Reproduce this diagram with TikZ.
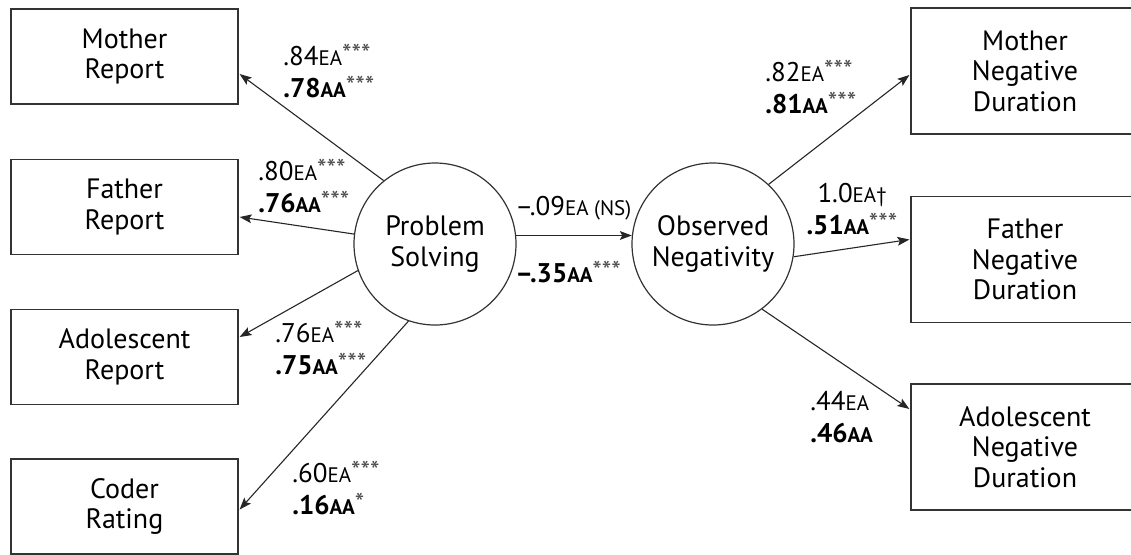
\documentclass[tikz,border=0pt]{standalone}
\usepackage{fontspec}
\setmainfont{PT Sans}
\usetikzlibrary{arrows.meta,calc}

% coefficient label: value, sample tag (small), significance (raised)
\newcommand\tagsize{\fontsize{10.5}{11}\selectfont}
\newcommand\sig[1]{\raisebox{0.15ex}{\fontsize{13.5}{13.5}\selectfont\mdseries\color{black!70}#1}}
\newcommand\coef[3]{#1{\tagsize #2}\sig{#3}}
\newcommand\coefb[3]{\textbf{#1{\tagsize #2}}\sig{#3}}

\tikzset{
  indicator/.style={draw=black!80, line width=0.6pt, rectangle, inner sep=0pt,
    minimum width=113.5pt, minimum height=47.5pt, align=center,
    font=\fontsize{14}{15.2}\selectfont},
  indicatorr/.style={indicator, minimum width=114pt, minimum height=63pt},
  latent/.style={draw=black!80, line width=0.6pt, circle, inner sep=0pt,
    minimum size=81pt, align=center, font=\fontsize{14}{15.6}\selectfont},
  loading/.style={draw=black!85, line width=0.55pt,
    -{Stealth[length=6pt,width=4.4pt,inset=1.2pt]}},
  coeflbl/.style={inner sep=0pt, align=left, font=\fontsize{13.5}{16}\selectfont},
}

\begin{document}
\begin{tikzpicture}[x=0.5pt, y=-0.5pt]
  \useasboundingbox (0,0) rectangle (1131,554);
  \clip (0,0) rectangle (1131,554);

  % measured indicators of problem solving
  \node[indicator] (mr) at (124.5,56.5) {Mother\\Report};
  \node[indicator] (fr) at (124.5,207) {Father\\Report};
  \node[indicator] (ar) at (124.5,357) {Adolescent\\Report};
  \node[indicator] (cr) at (124.5,506.5) {Coder\\Rating};

  % latent constructs
  \node[latent] (ps) at (435,244) {Problem\\Solving};
  \node[latent] (on) at (713,244) {Observed\\Negativity};

  % measured indicators of observed negativity
  \node[indicatorr] (mn) at (1025,71) {Mother\\Negative\\Duration};
  \node[indicatorr] (fn) at (1025,259.5) {Father\\Negative\\Duration};
  \node[indicatorr] (an) at (1025,447) {Adolescent\\Negative\\Duration};

  % loadings of problem solving
  \draw[loading] (ps.129) -- ($(mr.east)+(1,17.5)$);
  \draw[loading] (ps.173) -- ($(fr.east)+(1,10)$);
  \draw[loading] (ps.199) -- ($(ar.east)+(1,-20)$);
  \draw[loading] (ps.251) -- ($(cr.east)+(1,3)$);

  % structural path
  \draw[loading] (ps.6) -- (on.174);

  % loadings of observed negativity
  \draw[loading] (on.47) -- ($(mn.west)+(-1,4)$);
  \draw[loading] (on.351) -- ($(fn.west)+(-1,-20)$);
  \draw[loading] (on.307) -- ($(an.west)+(-1,-38)$);

  % coefficients
  \node[coeflbl, anchor=west] (l1) at (283,71)
    {\coef{.84}{EA}{***}\\\coefb{.78}{AA}{***}};
  \node[coeflbl, anchor=west] (l2) at (258,186)
    {\coef{.80}{EA}{***}\\\coefb{.76}{AA}{***}};
  \node[coeflbl, anchor=west] (l3) at (275,348)
    {\coef{.76}{EA}{***}\\\coefb{.75}{AA}{***}};
  \node[coeflbl, anchor=west] (l4) at (292,488)
    {\coef{.60}{EA}{***}\\\coefb{.16}{AA}{*}};
  \node[coeflbl, anchor=west] (l5) at (515,208)
    {\coef{–.09}{EA (NS)}{}};
  \node[coeflbl, anchor=west] (l6) at (515,272)
    {\coefb{–.35}{AA}{***}};
  \node[coeflbl, anchor=west] (l7) at (765,87.5)
    {\coef{.82}{EA}{***}\\\coefb{.81}{AA}{***}};
  \node[coeflbl, align=center] (l8) at (852,209)
    {1.0{\tagsize EA†}\\\coefb{.51}{AA}{***}};
  \node[coeflbl, anchor=west] (l9) at (810,417)
    {\coef{.44}{EA}{}\\\coefb{.46}{AA}{}};
\end{tikzpicture}
\end{document}
